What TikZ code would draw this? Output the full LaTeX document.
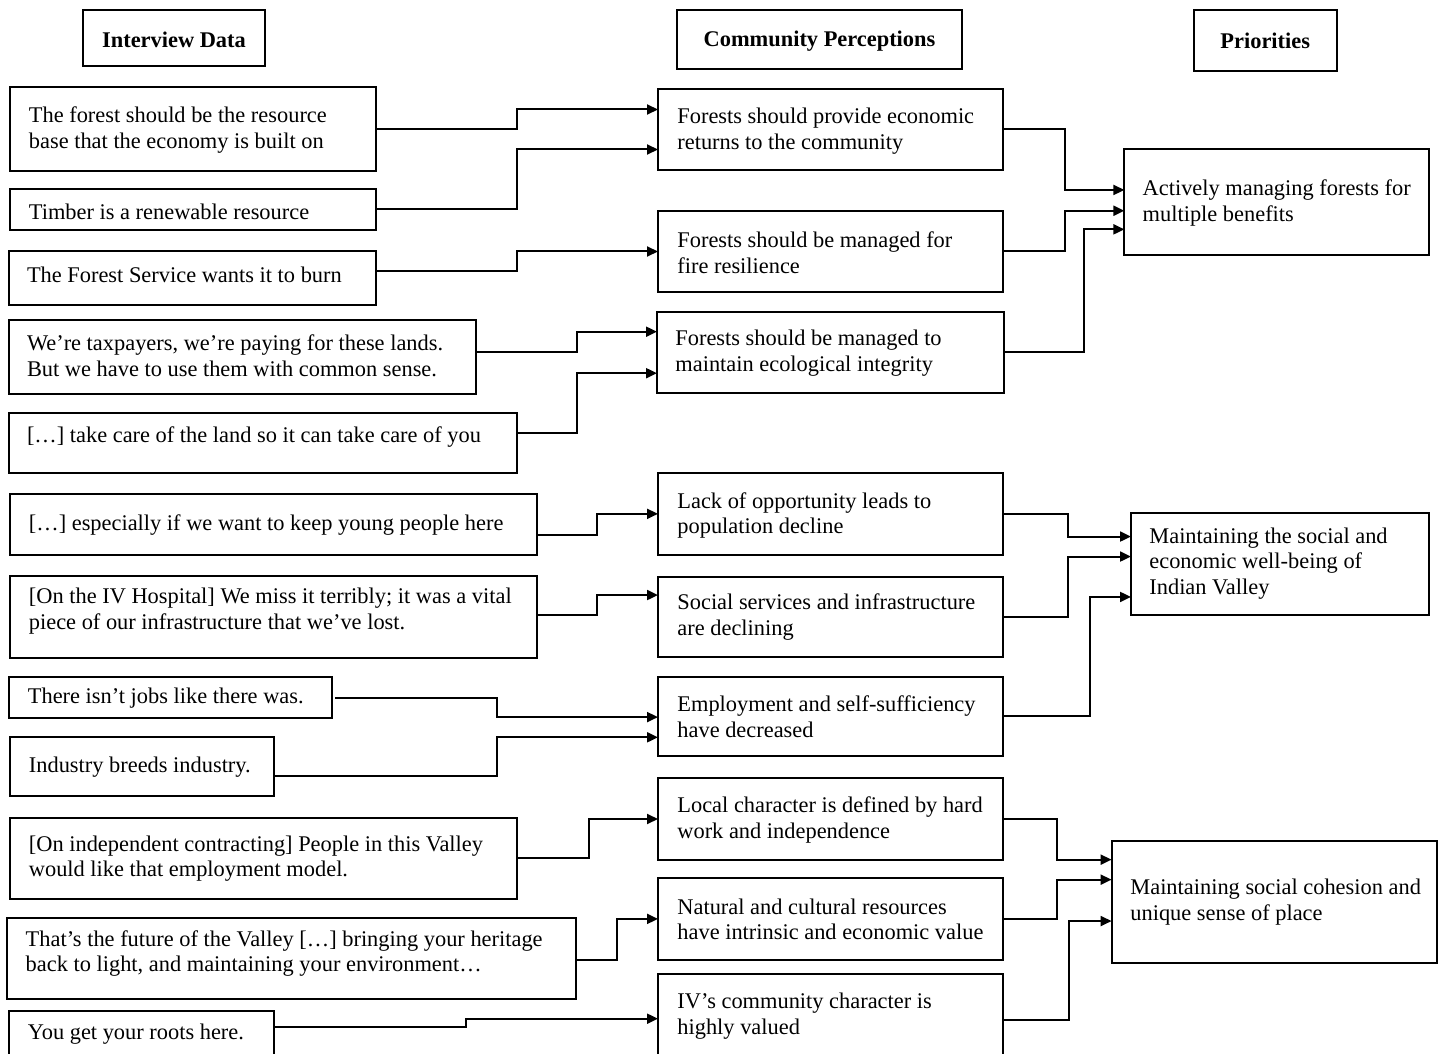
\documentclass[tikz,border=0pt]{standalone}
\usepackage{fontspec}
\setmainfont{Liberation Serif}
\usetikzlibrary{arrows.meta,fit,calc}
\begin{document}
\begin{tikzpicture}[x=0.5pt,y=-0.5pt,
  box/.style={draw, line width=1pt, inner sep=0pt, outer sep=0pt},
  txt/.style={inner sep=0pt, align=left, anchor=west, font=\fontsize{11.2}{12.8}\selectfont},
  hdr/.style={inner sep=0pt, font=\fontsize{11.2}{12.8}\selectfont\bfseries},
  conn/.style={line width=1pt, -{Triangle[length=5.5pt,width=5pt]}}]
\useasboundingbox (0,0) rectangle (1442,1054);
\clip (0,0) rectangle (1442,1054);

% headers
\node[box, fit={(83,10) (265,66)}] (H1) {};
\node[hdr] (H1t) at ([yshift=-1pt]H1.center) {Interview Data};
\node[box, fit={(677,10) (962,69)}] (H2) {};
\node[hdr] (H2t) at ([yshift=-1pt]H2.center) {Community Perceptions};
\node[box, fit={(1193.5,10) (1337,71)}] (H3) {};
\node[hdr] (H3t) at (H3.center) {Priorities};

% interview data
\node[box, fit={(10,87) (376,171)}] (I1) {};
\node[txt] (I1t) at (28.5,130) {The forest should be the resource\\base that the economy is built on};
\node[box, fit={(10,189) (375.5,230)}] (I2) {};
\node[txt] (I2t) at (28.5,212) {Timber is a renewable resource};
\node[box, fit={(9,251) (375.5,305)}] (I3) {};
\node[txt] (I3t) at (26.6,275) {The Forest Service wants it to burn};
\node[box, fit={(9,320) (476,394)}] (I4) {};
\node[txt] (I4t) at (26.6,355.5) {We’re taxpayers, we’re paying for these lands.\\But we have to use them with common sense.};
\node[box, fit={(9,413) (516.5,473)}] (I5) {};
\node[txt] (I5t) at (26.6,437) {[…] take care of the land so it can take care of you};
\node[box, fit={(10,494) (537,555)}] (I6) {};
\node[txt] (I6t) at (28.5,525) {[…] especially if we want to keep young people here};
\node[box, fit={(10,575.5) (537,658)}] (I7) {};
\node[txt] (I7t) at (28.5,611) {[On the IV Hospital] We miss it terribly; it was a vital\\piece of our infrastructure that we’ve lost.};
\node[box, fit={(9,677) (332.4,718)}] (I8) {};
\node[txt] (I8t) at (27.5,698.6) {There isn’t jobs like there was.};
\node[box, fit={(10,736.5) (273.6,796.4)}] (I9) {};
\node[txt] (I9t) at (28.5,767) {Industry breeds industry.};
\node[box, fit={(10,818) (516.5,898.6)}] (I10) {};
\node[txt] (I10t) at (28.5,858.7) {[On independent contracting] People in this Valley\\would like that employment model.};
\node[box, fit={(7.3,917.6) (576.2,998.6)}] (I11) {};
\node[txt] (I11t) at (25.3,953.4) {That’s the future of the Valley […] bringing your heritage\\back to light, and maintaining your environment…};
\node[box, fit={(9,1011) (273.6,1060)}] (I12) {};
\node[txt] (I12t) at (27.5,1034) {You get your roots here.};

% community perceptions
\node[box, fit={(658,89) (1003,170)}] (P1) {};
\node[txt] (P1t) at (677,131.2) {Forests should provide economic\\returns to the community};
\node[box, fit={(658,211) (1003,292)}] (P2) {};
\node[txt] (P2t) at (677,252.5) {Forests should be managed for\\fire resilience};
\node[box, fit={(657,311.7) (1004,392.7)}] (P3) {};
\node[txt] (P3t) at (675,353.4) {Forests should be managed to\\maintain ecological integrity};
\node[box, fit={(658,473) (1003,554.7)}] (P4) {};
\node[txt] (P4t) at (677,515.3) {Lack of opportunity leads to\\population decline};
\node[box, fit={(658,576.7) (1003,657)}] (P5) {};
\node[txt] (P5t) at (677,616.9) {Social services and infrastructure\\are declining};
\node[box, fit={(658,676.7) (1003,755.5)}] (P6) {};
\node[txt] (P6t) at (677,717) {Employment and self-sufficiency\\have decreased};
\node[box, fit={(658,778) (1003,860)}] (P7) {};
\node[txt] (P7t) at (677,819.8) {Local character is defined by hard\\work and independence};
\node[box, fit={(658,877.8) (1003,960)}] (P8) {};
\node[txt] (P8t) at (677,919.3) {Natural and cultural resources\\have intrinsic and economic value};
\node[box, fit={(658,974.4) (1003,1060)}] (P9) {};
\node[txt] (P9t) at (677,1016.3) {IV’s community character is\\highly valued};

% priorities
\node[box, fit={(1124.4,149) (1429.3,255.3)}] (Q1) {};
\node[txt] (Q1t) at (1142.3,203) {Actively managing forests for\\multiple benefits};
\node[box, fit={(1131,513) (1429,614.5)}] (Q2) {};
\node[txt] (Q2t) at (1149,563.6) {Maintaining the social and\\economic well-being of\\Indian Valley};
\node[box, fit={(1111.6,840.7) (1437,963)}] (Q3) {};
\node[txt] (Q3t) at (1130,902.3) {Maintaining social cohesion and\\unique sense of place};

% connectors: interview data -> perceptions
\draw[conn] (I1.east) -- ++(140.5,0) |- ([yshift=10pt]P1.west);
\draw[conn] (I2.east) -- ++(141,0) |- ([yshift=-10pt]P1.west);
\draw[conn] ([yshift=3.5pt]I3.east) -- ++(141,0) |- (P2.west);
\draw[conn] ([yshift=2.65pt]I4.east) -- ++(101,0) |- ([yshift=10.25pt]P3.west);
\draw[conn] ([yshift=4.85pt]I5.east) -- ++(60.5,0) |- ([yshift=-10.5pt]P3.west);
\draw[conn] ([yshift=-5.25pt]I6.east) -- ++(60,0) |- (P4.west);
\draw[conn] ([yshift=1pt]I7.east) -- ++(60,0) |- ([yshift=10.9pt]P5.west);
\draw[conn] ([xshift=1.3pt]I8.east) -- ++(162,0) |- ([yshift=-0.5pt]P6.west);
\draw[conn] ([yshift=-4.9pt]I9.east) -- ++(223.2,0) |- ([yshift=-10.6pt]P6.west);
\draw[conn] (I10.east) -- ++(72,0) |- (P7.west);
\draw[conn] ([yshift=-1pt]I11.east) -- ++(40.4,0) |- (P8.west);
\draw[conn] ([yshift=4.25pt]I12.east) -- ++(192.4,0) |- ([yshift=-0.75pt]P9.west);

% connectors: perceptions -> priorities
\draw[conn] (P1.east) -- ++(61.6,0) |- ([yshift=6.1pt]Q1.west);
\draw[conn] (P2.east) -- ++(61.6,0) |- ([yshift=-4.3pt]Q1.west);
\draw[conn] (P3.east) -- ++(79.5,0) |- ([yshift=-13.6pt]Q1.west);
\draw[conn] (P4.east) -- ++(64.6,0) |- ([yshift=13.6pt]Q2.west);
\draw[conn] (P5.east) -- ++(64.6,0) |- ([yshift=3.6pt]Q2.west);
\draw[conn] (P6.east) -- ++(87,0) |- ([yshift=-16.6pt]Q2.west);
\draw[conn] (P7.east) -- ++(54,0) |- ([yshift=21.1pt]Q3.west);
\draw[conn] (P8.east) -- ++(54,0) |- ([yshift=11.1pt]Q3.west);
\draw[conn] ([yshift=-1.3pt]P9.east) -- ++(65.6,0) |- ([yshift=-9.6pt]Q3.west);
\end{tikzpicture}
\end{document}
